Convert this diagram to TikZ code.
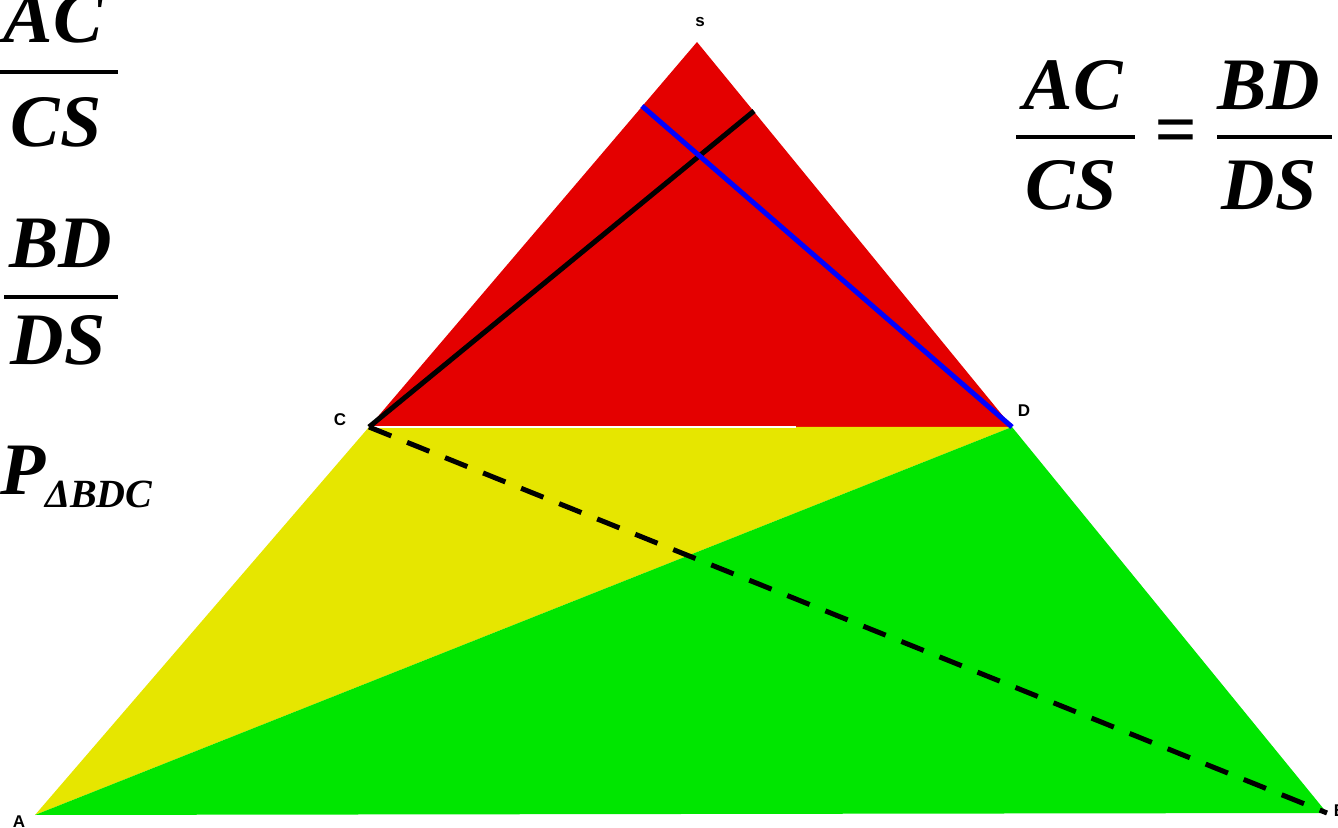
\documentclass[tikz,border=0pt]{standalone}
\usepackage{fontspec}
\setmainfont{Liberation Serif}
\setsansfont{Liberation Sans}
\definecolor{TriRed}{HTML}{E40000}
\definecolor{TriYellow}{HTML}{E6E600}
\definecolor{TriGreen}{HTML}{00E600}
\tikzset{
  big/.style={inner sep=0pt,anchor=base,font=\fontsize{74}{80}\selectfont\bfseries\itshape},
  small/.style={inner sep=0pt,anchor=base west,font=\fontsize{40}{44}\selectfont\bfseries\itshape},
  vertex/.style={inner sep=0pt,font=\fontsize{17}{18}\selectfont\sffamily\bfseries},
  bar/.style={line width=4pt}
}
\begin{document}
\begin{tikzpicture}[x=1pt,y=1pt]
\useasboundingbox (0,0) rectangle (1338,827);
\clip (0,0) rectangle (1338,827);
% corners of the big triangle
\coordinate (S) at (697,785);
\coordinate (C) at (369,400);
\coordinate (D) at (1012,400);
\coordinate (A) at (35,12);
\coordinate (B) at (1327,14);
\coordinate (E) at (754,716);
\coordinate (F) at (642,721);
\coordinate (W) at (796,400);
\fill[TriRed] (S)--(C)--(D)--cycle;
\fill[TriYellow] (C)--(A)--(D)--cycle;
\fill[TriGreen] (A)--(B)--(D)--cycle;
\draw[white,line width=2pt] (C)--(W);
\draw[line width=5pt] (C)--(E);
\draw[blue,line width=5pt] (F)--(D);
\draw[line width=5pt,dash pattern=on 24pt off 17pt] (C)--(B);
\node[vertex] (lS) at (700,805) {s};
\node[vertex] (lC) at (340,407) {C};
\node[vertex] (lD) at (1024,416) {D};
\node[vertex] (lA) at (19,5) {A};
\node[vertex] (lB) at (1340,16) {B};
% left column
\node[big] (ac1) at (53,784) {AC};
\draw[bar] (0,755)--(118,755);
\node[big] (cs1) at (56,680) {CS};
\node[big] (bd1) at (61,559) {BD};
\draw[bar] (4,530)--(118,530);
\node[big] (ds1) at (58,462) {DS};
\node[big] (P) at (23,332) {P};
\node[small] (sub) at (45,319) {ΔBDC};
% proportion
\node[big] (ac2) at (1073,717) {AC};
\draw[bar] (1016,690)--(1135,690);
\node[big] (cs2) at (1071,617) {CS};
\node[big,anchor=center] (eq) at (1176,690) {=};
\node[big] (bd2) at (1269,717) {BD};
\draw[bar] (1217,690)--(1332,690);
\node[big] (ds2) at (1269,617) {DS};
\end{tikzpicture}
\end{document}
